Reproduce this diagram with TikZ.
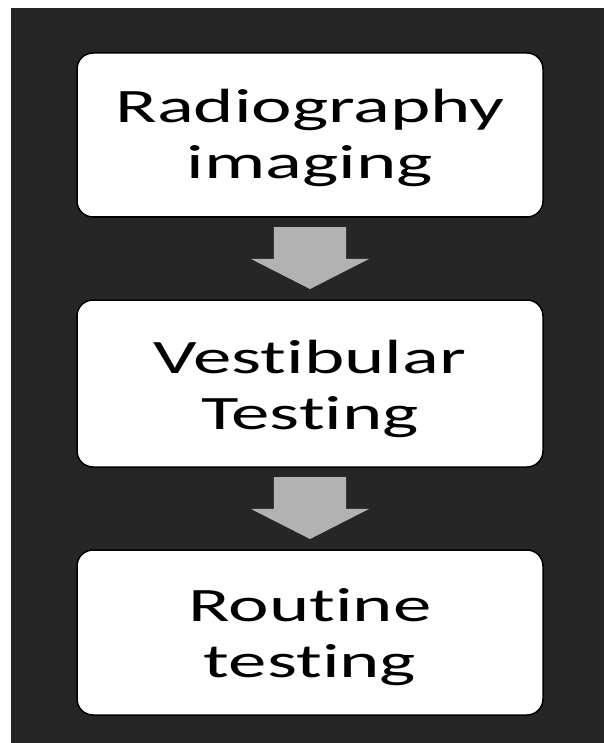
\documentclass[tikz,border=0pt]{standalone}
\usepackage{fontspec}
\setmainfont{Carlito}[Ligatures=NoCommon]
\usetikzlibrary{shapes.arrows,calc}
\definecolor{bgdark}{HTML}{262626}
\definecolor{arrowgray}{HTML}{B2B2B2}
\newcommand{\wtxt}[1]{\scalebox{1.6}[1]{#1}}
\begin{document}
\begin{tikzpicture}[x=1pt,y=-1pt,
 stepbox/.style={draw=black, line width=1.5pt, fill=white, rounded corners=16pt,
   minimum width=466pt, inner sep=0pt},
 steptext/.style={align=center, font=\fontsize{48}{56}\selectfont, inner sep=0pt, text=black},
 downarrow/.style={single arrow, fill=arrowgray, draw=none, rotate=-90, anchor=tip,
   inner xsep=0pt, inner ysep=36pt, minimum height=62pt,
   single arrow head extend=23pt, single arrow tip angle=126, single arrow head indent=0pt}]
\useasboundingbox (0,0) rectangle (604,743);
\fill[white] (0,0) rectangle (604,743);
\fill[bgdark] (11,8) rectangle (604,743);
\node[stepbox, minimum height=164pt] (b1) at (310,135) {};
\node[stepbox, minimum height=167pt] (b2) at (310,383.5) {};
\node[stepbox, minimum height=165pt] (b3) at (310,632.5) {};
\node[steptext] (t1) at ($(b1.center)+(0,3)$) {\wtxt{Radiography}\\\wtxt{imaging}};
\node[steptext] (t2) at ($(b2.center)+(0,5)$) {\wtxt{Vestibular}\\\wtxt{Testing}};
\node[steptext] (t3) at ($(b3.center)+(0,5)$) {\wtxt{Routine}\\\wtxt{testing}};
\node[downarrow] (a1) at ($(b2.north)+(0,-10)$) {};
\node[downarrow] (a2) at ($(b3.north)+(0,-10)$) {};
\end{tikzpicture}
\end{document}
